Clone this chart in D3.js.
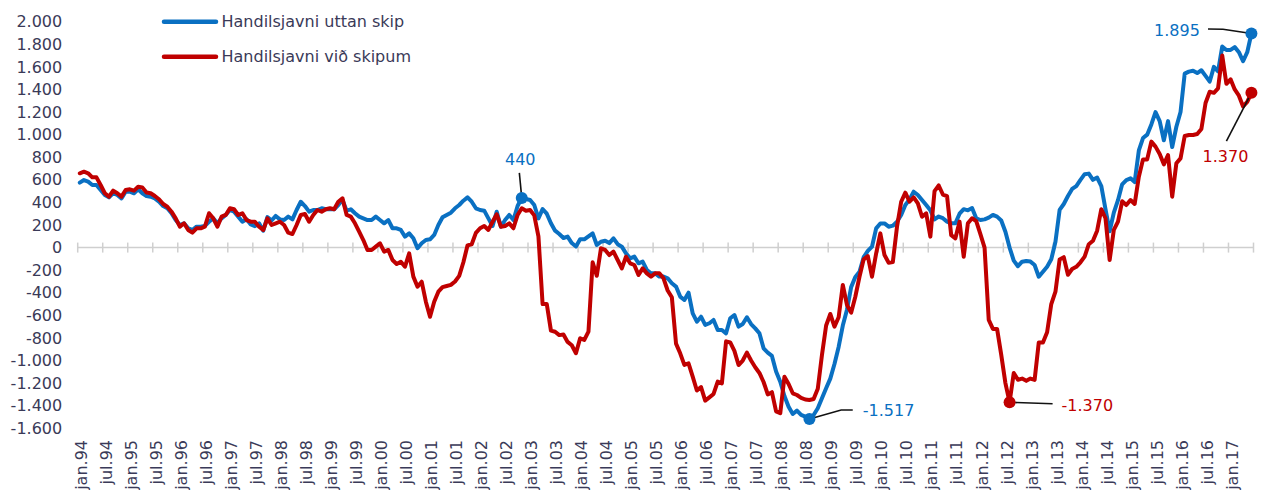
<!DOCTYPE html>
<html>
<head>
<meta charset="utf-8">
<script src="https://cdn.jsdelivr.net/npm/d3@7"></script>
<style>
  body { margin: 0; background: #ffffff; }
  svg { display: block; }
  text { font-family: "DejaVu Sans", Verdana, sans-serif; }
</style>
</head>
<body>
<svg id="chart" width="1272" height="493"></svg>
<script>
// Monthly trade balance (mió. kr.), jan. 1994 – jun. 2017
const startYear = 1994;
const monthAbbr = ["jan", "feb", "mar", "apr", "mai", "jun", "jul", "aug", "sep", "okt", "nov", "des"];

const seriesNames = ["Handilsjavni uttan skip", "Handilsjavni við skipum"];

// Handilsjavni uttan skip
const uttanSkip = [
  575, 598, 584, 554, 554, 510, 466, 445, 481, 466, 436, 495,            // 1994
  495, 481, 516, 481, 457, 451, 436, 407, 368, 348, 304, 244,            // 1995
  200, 215, 171, 156, 185, 185, 192, 229, 259, 215, 259, 289,            // 1996
  333, 318, 274, 229, 250, 205, 190, 215, 150, 270, 240, 280,            // 1997
  250, 244, 274, 250, 333, 406, 368, 318, 333, 333, 348, 339,            // 1998
  339, 339, 377, 421, 327, 339, 304, 274, 259, 244, 244, 274,            // 1999
  244, 215, 244, 171, 171, 156, 97, 126, 82, -6, 38, 67,                 // 2000
  73, 112, 200, 268, 289, 309, 348, 377, 415, 445, 406, 348,             // 2001
  333, 327, 259, 191, 318, 185, 244, 289, 244, 368, 440, 430,            // 2002
  421, 377, 259, 340, 300, 215, 150, 120, 85, 97, 40, 10,                // 2003
  73, 73, 100, 126, 23, 52, 61, 40, 82, 30, 8, -51,                      // 2004
  -95, -80, -139, -124, -198, -228, -228, -257, -257, -272, -316, -345,  // 2005
  -434, -464, -399, -582, -656, -612, -685, -670, -641, -730, -730, -759,       // 2006
  -626, -597, -700, -677, -617, -677, -715, -759, -892, -930, -959, -1098,      // 2007
  -1187, -1314, -1409, -1473, -1444, -1482, -1497, -1517, -1482, -1423, -1334, -1246, // 2008
  -1160, -1030, -880, -690, -550, -350, -260, -215, -85, -30, 8, 170,    // 2009
  214, 214, 185, 194, 229, 288, 377, 427, 495, 465, 421, 377,            // 2010
  330, 250, 275, 260, 230, 215, 215, 300, 340, 330, 350, 260,            // 2011
  244, 250, 265, 289, 274, 240, 140, 0, -115, -165, -125, -118,          // 2012
  -124, -154, -258, -213, -169, -104, 52, 333, 386, 457, 519, 545,       // 2013
  600, 650, 655, 600, 620, 545, 340, 145, 310, 420, 560, 598,            // 2014
  613, 580, 860, 970, 1000, 1090, 1200, 1120, 950, 1120, 890, 1070,      // 2015
  1200, 1540, 1558, 1566, 1545, 1570, 1520, 1470, 1600, 1560, 1780, 1750, // 2016
  1750, 1775, 1730, 1650, 1730, 1895                                     // 2017
];

// Handilsjavni við skipum
const vidSkipum = [
  658, 672, 658, 622, 622, 554, 481, 451, 504, 481, 451, 510,            // 1994
  516, 504, 539, 533, 487, 481, 457, 428, 386, 362, 318, 259,            // 1995
  185, 215, 156, 132, 171, 171, 185, 304, 259, 185, 274, 289,            // 1996
  348, 339, 289, 304, 244, 229, 229, 185, 156, 259, 200, 215,            // 1997
  229, 200, 132, 120, 200, 289, 297, 229, 289, 333, 318, 339,            // 1998
  348, 339, 406, 436, 289, 274, 215, 141, 67, -21, -21, 8,               // 1999
  38, -36, -21, -110, -145, -125, -169, -51, -257, -346, -302, -479,     // 2000
  -612, -480, -390, -350, -340, -330, -300, -250, -130, 20, 30, 130,     // 2001
  171, 191, 156, 229, 295, 185, 191, 215, 171, 289, 348, 327,            // 2002
  333, 285, 100, -500, -500, -735, -745, -775, -770, -835, -865, -935,   // 2003
  -803, -818, -744, -130, -250, -6, -21, -66, -36, -110, -184, -81,      // 2004
  -139, -154, -243, -184, -228, -257, -228, -228, -272, -380, -440, -850,        // 2005
  -936, -1039, -1025, -1143, -1265, -1235, -1355, -1326, -1296, -1187, -1202, -830, // 2006
  -840, -915, -1040, -1000, -930, -1000, -1060, -1110, -1190, -1300, -1280, -1450,  // 2007
  -1467, -1143, -1208, -1290, -1305, -1330, -1345, -1349, -1340, -1250, -950, -690, // 2008
  -588, -700, -617, -331, -508, -576, -435, -258, -104, -75, -258, -51,  // 2009
  126, -66, -134, -128, 185, 406, 486, 406, 445, 391, 273, 303,          // 2010
  97, 500, 550, 470, 456, 110, 82, 230, -81, 215, 260, 235,              // 2011
  120, 0, -640, -720, -720, -950, -1200, -1370, -1110, -1170, -1160, -1180,     // 2012
  -1160, -1172, -840, -840, -750, -500, -390, -105, -85, -240, -190, -170,      // 2013
  -130, -80, 30, 60, 150, 340, 260, -110, 156, 230, 410, 377,            // 2014
  421, 386, 628, 781, 781, 938, 894, 829, 737, 820, 451, 746,            // 2015
  790, 988, 997, 997, 1006, 1050, 1280, 1380, 1370, 1410, 1700, 1450,    // 2016
  1490, 1400, 1345, 1250, 1290, 1370                                     // 2017
];

// Month categories: "jan.94", "feb.94", ...
const categories = uttanSkip.map((_, i) =>
  monthAbbr[i % 12] + "." + String((startYear + Math.floor(i / 12)) % 100).padStart(2, "0"));

// Axis labels every half year (jan / jul)
const xTickLabels = categories.filter((_, i) => i % 6 === 0);
const yTicks = [-1600, -1400, -1200, -1000, -800, -600, -400, -200, 0, 200, 400, 600, 800, 1000, 1200, 1400, 1600, 1800, 2000];

// Highlighted points: series index and month
const callouts = [
  { s: 0, month: "nov.02" },
  { s: 0, month: "aug.08" },
  { s: 1, month: "aug.12" },
  { s: 0, month: "jun.17" },
  { s: 1, month: "jun.17" }
];

const colors = ["#0A70C2", "#C00000"];
const textColor = "#3a3a58";

const locale = d3.formatLocale({ decimal: ",", thousands: ".", grouping: [3], currency: ["", " kr."], minus: "-" });
const fmt = locale.format(",d");

const svg = d3.select("#chart");

const x = d3.scaleBand().domain(categories).range([77.7, 1253.5]).paddingInner(0).paddingOuter(0);
const y = d3.scaleLinear().domain([-1600, 2000]).range([428.3, 21.7]);
const bw = x.bandwidth();
const cx = c => x(c) + bw / 2;

// Y axis labels (no axis line)
const yAxis = d3.axisLeft(y).tickValues(yTicks).tickFormat(fmt).tickSize(0).tickPadding(15.5);
const gy = svg.append("g").attr("transform", "translate(77.7,0)").call(yAxis);
gy.select(".domain").remove();
gy.selectAll("text")
  .attr("fill", textColor)
  .attr("font-size", "16px")
  .attr("font-family", "'DejaVu Sans', Verdana, sans-serif");

// Category axis along zero, with crossing tick marks at half-year boundaries
const y0 = y(0);
const gx = svg.append("g");
gx.append("line")
  .attr("x1", x.range()[0]).attr("x2", x.range()[1])
  .attr("y1", y0).attr("y2", y0)
  .attr("stroke", "#cfcfcf").attr("stroke-width", 1.5);
const tickPos = xTickLabels.map(c => x(c)).concat([x.range()[1]]);
gx.selectAll("line.tick")
  .data(tickPos)
  .join("line")
  .attr("class", "tick")
  .attr("x1", d => d).attr("x2", d => d)
  .attr("y1", y0 - 5).attr("y2", y0 + 5)
  .attr("stroke", "#cfcfcf").attr("stroke-width", 1.5);

// Rotated category labels under the plot
svg.append("g")
  .selectAll("text")
  .data(xTickLabels)
  .join("text")
  .attr("transform", c => `translate(${cx(c) + 1.5},440) rotate(-90)`)
  .attr("text-anchor", "end")
  .attr("dy", "0.35em")
  .attr("font-size", "16px")
  .attr("fill", textColor)
  .text(c => c);

// Series lines
const series = [uttanSkip, vidSkipum];
const line = d3.line()
  .x((d, i) => cx(categories[i]))
  .y(d => y(d));

svg.append("g")
  .selectAll("path")
  .data(series)
  .join("path")
  .attr("d", d => line(d))
  .attr("fill", "none")
  .attr("stroke", (d, i) => colors[i])
  .attr("stroke-width", 4)
  .attr("stroke-linejoin", "round")
  .attr("stroke-linecap", "round");

// Legend
const legend = svg.append("g");
seriesNames.forEach((name, i) => {
  const ly = 21.7 + i * 35;
  legend.append("line")
    .attr("x1", 164).attr("x2", 216)
    .attr("y1", ly).attr("y2", ly)
    .attr("stroke", colors[i]).attr("stroke-width", 4.5)
    .attr("stroke-linecap", "round");
  legend.append("text")
    .attr("x", 221.5).attr("y", ly)
    .attr("dy", "0.35em")
    .attr("font-size", "16px")
    .attr("fill", textColor)
    .text(name);
});

// Callouts: marker, leader line and value label
// leader: points relative to the marker; label: offset and anchor
const calloutStyle = [
  { leader: [[-2.4, -25], [0, 0]], label: [-1.5, -38], anchor: "middle" },
  { leader: [[0, 0], [31.7, -9], [43.3, -9]], label: [53.3, -8.5], anchor: "start" },
  { leader: [[0, 0], [43, 1.5]], label: [52, 3], anchor: "start" },
  { leader: [[0, 0], [-28.4, -4.3], [-43.4, -4.6]], label: [-51.5, -2.8], anchor: "end" },
  { leader: [[0, 0], [-25, 48.3]], label: [-26, 64], anchor: "middle" }
];

const gc = svg.append("g");
callouts.forEach((c, k) => {
  const idx = categories.indexOf(c.month);
  const v = series[c.s][idx];
  const px = cx(c.month), py = y(v);
  const st = calloutStyle[k];
  gc.append("path")
    .attr("d", d3.line()(st.leader.map(p => [px + p[0], py + p[1]])))
    .attr("fill", "none")
    .attr("stroke", "#111111")
    .attr("stroke-width", 1.6);
  gc.append("circle")
    .attr("cx", px).attr("cy", py).attr("r", 6)
    .attr("fill", colors[c.s]);
  gc.append("text")
    .attr("x", px + st.label[0]).attr("y", py + st.label[1])
    .attr("dy", "0.35em")
    .attr("text-anchor", st.anchor)
    .attr("font-size", "16px")
    .attr("fill", colors[c.s])
    .text(fmt(v));
});
</script>
</body>
</html>
